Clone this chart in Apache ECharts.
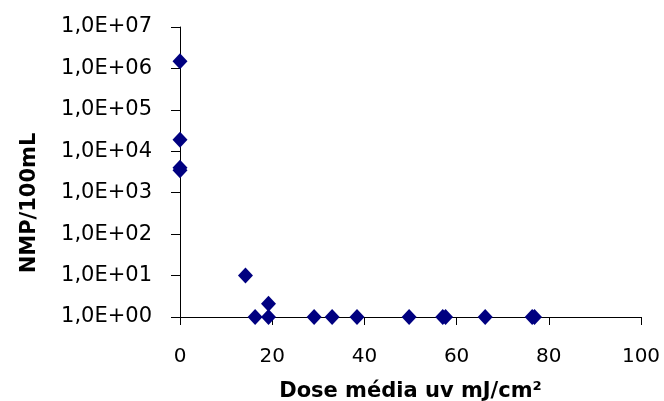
<!DOCTYPE html>
<html>
<head>
<meta charset="utf-8">
<script src="https://cdn.jsdelivr.net/npm/echarts@6/dist/echarts.min.js"></script>
<style>html,body{margin:0;padding:0;background:#fff}#c{width:664px;height:401px}</style>
</head>
<body>
<div id="c"></div>
<script>
// Data
const doseValues = [0, 0, 0, 0, 14.2, 16.3, 19.2, 19.2, 29.1, 33.0, 38.4, 49.7, 57.0, 57.6, 66.2, 76.4, 76.9];
const nmpValues  = [1.5e6, 1.9e4, 3.5e3, 4.0e3, 10, 1, 2.1, 1, 1, 1, 1, 1, 1, 1, 1, 1, 1];
const yTickLabels = ['1,0E+00','1,0E+01','1,0E+02','1,0E+03','1,0E+04','1,0E+05','1,0E+06','1,0E+07'];
const xTickLabels = ['0','20','40','60','80','100'];
const xTitle = 'Dose média uv mJ/cm²';
const yTitle = 'NMP/100mL';

const points = doseValues.map((d, i) => [d, nmpValues[i]]);
const font = 'DejaVu Sans';

const chart = echarts.init(document.getElementById('c'), null, {renderer: 'canvas'});
chart.setOption({
  backgroundColor: '#fff',
  animation: false,
  grid: {left: 180, right: 23, top: 27, bottom: 84, containLabel: false, outerBoundsMode: 'none'},
  xAxis: {
    type: 'value', min: 0, max: 100, interval: 20,
    name: xTitle, nameLocation: 'middle', nameGap: 64,
    nameTextStyle: {fontFamily: font, fontWeight: 'bold', fontSize: 21, color: '#000'},
    axisLine: {show: true, lineStyle: {color: '#000', width: 1}},
    axisTick: {show: true, inside: false, length: 8, lineStyle: {color: '#000'}},
    axisLabel: {fontFamily: font, fontSize: 20, color: '#000', margin: 30,
      formatter: (v, i) => xTickLabels[i] !== undefined ? xTickLabels[i] : String(v)},
    splitLine: {show: false}
  },
  yAxis: {
    type: 'log', logBase: 10, min: 1, max: 1e7, interval: 1,
    name: yTitle, nameLocation: 'middle', nameGap: 140, nameRotate: 90,
    nameTextStyle: {fontFamily: font, fontWeight: 'bold', fontSize: 21, color: '#000', padding: [0, 62, 0, 0]},
    axisLine: {show: true, onZero: false, lineStyle: {color: '#000', width: 1}},
    axisTick: {show: true, inside: false, length: 9, lineStyle: {color: '#000'}},
    axisLabel: {fontFamily: font, fontSize: 21, color: '#000', margin: 28, padding: [0, 0, 8, 0],
      formatter: (v, i) => yTickLabels[Math.round(Math.log10(v))]},
    splitLine: {show: false}
  },
  series: [{
    type: 'scatter',
    data: points,
    symbol: 'diamond',
    symbolSize: [15, 16],
    itemStyle: {color: '#000080', opacity: 1},
    emphasis: {disabled: true}
  }]
});
</script>
</body>
</html>
